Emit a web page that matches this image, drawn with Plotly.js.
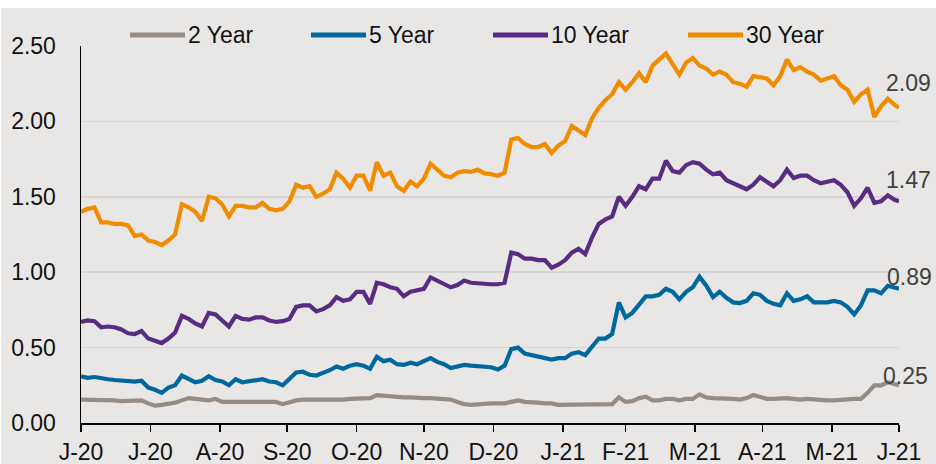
<!DOCTYPE html>
<html>
<head>
<meta charset="utf-8">
<script src="https://cdn.plot.ly/plotly-3.0.1.min.js"></script>
<style>
  html, body { margin: 0; padding: 0; background: #ffffff; width: 936px; height: 464px; overflow: hidden; }
  #chart { position: absolute; left: 1px; top: 8px; width: 935px; height: 456px; }
</style>
</head>
<body>
<div id="chart"></div>
<script>
// ---- data ----
const dates = [
"2020-06-30","2020-07-03","2020-07-06","2020-07-09","2020-07-12","2020-07-15","2020-07-18","2020-07-21","2020-07-24","2020-07-27",
"2020-07-30","2020-08-02","2020-08-05","2020-08-08","2020-08-11","2020-08-14","2020-08-17","2020-08-20","2020-08-23","2020-08-26",
"2020-08-29","2020-09-01","2020-09-04","2020-09-07","2020-09-10","2020-09-13","2020-09-16","2020-09-19","2020-09-22","2020-09-25",
"2020-09-28","2020-10-01","2020-10-04","2020-10-07","2020-10-10","2020-10-13","2020-10-16","2020-10-19","2020-10-22","2020-10-25",
"2020-10-28","2020-10-31","2020-11-03","2020-11-06","2020-11-09","2020-11-12","2020-11-15","2020-11-18","2020-11-21","2020-11-24",
"2020-11-27","2020-11-30","2020-12-03","2020-12-06","2020-12-09","2020-12-12","2020-12-15","2020-12-18","2020-12-21","2020-12-24",
"2020-12-27","2020-12-30","2021-01-02","2021-01-05","2021-01-08","2021-01-11","2021-01-14","2021-01-17","2021-01-20","2021-01-23",
"2021-01-26","2021-01-29","2021-02-01","2021-02-04","2021-02-07","2021-02-10","2021-02-13","2021-02-16","2021-02-19","2021-02-22",
"2021-02-25","2021-02-28","2021-03-03","2021-03-06","2021-03-09","2021-03-12","2021-03-15","2021-03-18","2021-03-21","2021-03-24",
"2021-03-27","2021-03-30","2021-04-02","2021-04-05","2021-04-08","2021-04-11","2021-04-14","2021-04-17","2021-04-20","2021-04-23",
"2021-04-26","2021-04-29","2021-05-02","2021-05-05","2021-05-08","2021-05-11","2021-05-14","2021-05-17","2021-05-20","2021-05-23",
"2021-05-26","2021-05-29","2021-06-01","2021-06-04","2021-06-07","2021-06-10","2021-06-13","2021-06-16","2021-06-19","2021-06-22",
"2021-06-25","2021-06-28","2021-06-30"
];

const year2 = [
0.155,0.155,0.15,0.15,0.15,0.15,0.145,0.145,0.15,0.15,
0.13,0.115,0.12,0.125,0.135,0.15,0.165,0.16,0.155,0.15,
0.16,0.14,0.14,0.14,0.145,0.14,0.14,0.14,0.14,0.14,
0.125,0.14,0.15,0.155,0.155,0.155,0.15,0.15,0.155,0.155,
0.16,0.16,0.16,0.165,0.185,0.18,0.18,0.175,0.17,0.17,
0.165,0.165,0.165,0.16,0.155,0.155,0.14,0.125,0.12,0.125,
0.125,0.13,0.13,0.13,0.14,0.15,0.14,0.14,0.135,0.13,
0.13,0.12,0.12,0.12,0.125,0.12,0.12,0.12,0.12,0.125,
0.17,0.14,0.145,0.165,0.175,0.15,0.15,0.16,0.16,0.15,
0.16,0.16,0.19,0.17,0.165,0.165,0.165,0.16,0.155,0.165,
0.185,0.17,0.16,0.16,0.165,0.165,0.16,0.155,0.16,0.155,
0.15,0.15,0.15,0.155,0.16,0.16,0.16,0.20,0.25,0.25,
0.27,0.26,0.25
];

const year5 = [
0.31,0.30,0.305,0.295,0.29,0.285,0.28,0.275,0.275,0.28,
0.235,0.22,0.20,0.235,0.25,0.315,0.29,0.27,0.28,0.31,
0.285,0.275,0.25,0.29,0.27,0.275,0.285,0.29,0.275,0.27,
0.25,0.29,0.335,0.34,0.32,0.315,0.33,0.35,0.375,0.36,
0.38,0.39,0.38,0.36,0.44,0.41,0.42,0.39,0.385,0.40,
0.39,0.41,0.43,0.405,0.39,0.365,0.375,0.385,0.38,0.375,
0.37,0.37,0.355,0.38,0.49,0.50,0.46,0.45,0.445,0.43,
0.42,0.43,0.43,0.46,0.47,0.45,0.51,0.56,0.56,0.59,
0.80,0.70,0.73,0.79,0.84,0.84,0.85,0.89,0.87,0.82,
0.87,0.90,0.97,0.91,0.835,0.87,0.83,0.80,0.795,0.81,
0.86,0.85,0.81,0.79,0.78,0.86,0.81,0.82,0.84,0.80,
0.80,0.80,0.81,0.80,0.77,0.72,0.78,0.88,0.88,0.86,
0.91,0.90,0.89
];

const year10 = [
0.67,0.68,0.675,0.635,0.64,0.635,0.62,0.595,0.59,0.61,
0.56,0.545,0.53,0.56,0.60,0.71,0.69,0.66,0.64,0.73,
0.72,0.68,0.64,0.71,0.69,0.685,0.70,0.70,0.68,0.67,
0.675,0.69,0.77,0.78,0.78,0.74,0.755,0.78,0.835,0.81,
0.82,0.87,0.87,0.79,0.93,0.92,0.90,0.89,0.84,0.87,
0.88,0.89,0.965,0.945,0.92,0.90,0.915,0.945,0.93,0.925,
0.925,0.92,0.92,0.93,1.13,1.12,1.09,1.09,1.08,1.08,
1.03,1.05,1.08,1.13,1.155,1.12,1.23,1.32,1.35,1.37,
1.50,1.44,1.50,1.57,1.55,1.62,1.62,1.74,1.67,1.66,
1.71,1.73,1.72,1.68,1.65,1.66,1.61,1.59,1.57,1.55,
1.58,1.63,1.60,1.57,1.61,1.68,1.625,1.64,1.64,1.61,
1.59,1.60,1.61,1.58,1.53,1.44,1.49,1.56,1.46,1.47,
1.51,1.48,1.47
];

const year30 = [
1.40,1.42,1.43,1.33,1.33,1.32,1.32,1.31,1.24,1.25,
1.21,1.20,1.18,1.21,1.25,1.45,1.43,1.40,1.34,1.50,
1.49,1.45,1.37,1.44,1.44,1.43,1.43,1.46,1.42,1.41,
1.42,1.47,1.58,1.56,1.57,1.50,1.52,1.55,1.66,1.62,
1.56,1.64,1.64,1.54,1.73,1.64,1.66,1.57,1.54,1.60,
1.57,1.62,1.72,1.68,1.64,1.63,1.66,1.67,1.665,1.68,
1.655,1.65,1.64,1.66,1.88,1.89,1.85,1.83,1.83,1.85,
1.79,1.84,1.87,1.97,1.94,1.91,2.02,2.09,2.14,2.18,
2.26,2.21,2.26,2.32,2.26,2.37,2.41,2.45,2.38,2.31,
2.39,2.42,2.37,2.35,2.31,2.33,2.31,2.26,2.25,2.23,
2.30,2.29,2.285,2.24,2.30,2.41,2.34,2.36,2.33,2.31,
2.27,2.285,2.30,2.24,2.21,2.13,2.18,2.21,2.03,2.10,
2.15,2.11,2.09
];

const seriesNames = ["2 Year", "5 Year", "10 Year", "30 Year"];
const tickDates = ["2020-06-30","2020-07-31","2020-08-31","2020-09-30","2020-10-31","2020-11-30",
                   "2020-12-31","2021-01-31","2021-02-28","2021-03-31","2021-04-30","2021-05-31","2021-06-30"];
const tickLabels = ["J-20","J-20","A-20","S-20","O-20","N-20","D-20","J-21","F-21","M-21","A-21","M-21","J-21"];

// ---- styles ----
const colors = ["#968C83", "#00689C", "#582C83", "#F08C00"];
const FONT = "Liberation Sans, Arial, Helvetica, sans-serif";
const FS = 23;
const BG = "#E8E7E5";
const allSeries = [year2, year5, year10, year30];

const traces = allSeries.map((ys, i) => ({
  type: "scatter", mode: "lines", x: dates, y: ys, name: seriesNames[i],
  line: { color: colors[i], width: 4.2 }, showlegend: false, hoverinfo: "skip"
}));

// plot area geometry inside the div (px)
const M = { l: 80, r: 37, t: 38, b: 40.5 };
const W = 935, H = 456;
const pw = W - M.l - M.r;
const ph = H - M.t - M.b;
const pxX = px => (px - 1 - M.l) / pw;          // page px -> paper x
const pxY = py => ((M.t + ph) - (py - 8)) / ph;  // page px -> paper y

// manual legend (line swatch + text), page-pixel positions of the reference
const legLineStart = [130, 311, 493, 688];
const legLen = 55, legY = 35;
const shapes = seriesNames.map((n, i) => ({
  type: "line", xref: "paper", yref: "paper",
  x0: pxX(legLineStart[i]), x1: pxX(legLineStart[i] + legLen),
  y0: pxY(legY), y1: pxY(legY),
  line: { color: colors[i], width: 5 }
}));
const annotations = seriesNames.map((n, i) => ({
  xref: "paper", yref: "paper", x: pxX(legLineStart[i] + legLen + 1), y: pxY(legY),
  xanchor: "left", yanchor: "middle", text: n, showarrow: false,
  font: { family: FONT, size: FS, color: "#111111" }
}));

// end-of-line value labels
const endShiftX = [-18, -14, -15, -15];
const endShiftY = [9, 12, 21, 25];
allSeries.forEach((ys, i) => {
  const last = ys[ys.length - 1];
  annotations.push({
    x: dates[dates.length - 1], y: last, xref: "x", yref: "y",
    text: last.toFixed(2), showarrow: false, xanchor: "left", yanchor: "middle",
    xshift: endShiftX[i], yshift: endShiftY[i],
    font: { family: FONT, size: FS, color: "#404040" }
  });
});

const layout = {
  width: W, height: H,
  margin: M,
  paper_bgcolor: BG, plot_bgcolor: BG,
  showlegend: false,
  font: { family: FONT, size: FS, color: "#111111" },
  xaxis: {
    type: "date", range: ["2020-06-30", "2021-06-30"],
    tickmode: "array", tickvals: tickDates, ticktext: tickLabels,
    ticks: "outside", ticklen: 7, tickwidth: 1.5, tickcolor: "#000000",
    showline: true, linecolor: "#000000", linewidth: 1.5,
    showgrid: false, zeroline: false,
    tickfont: { family: FONT, size: FS, color: "#111111" },
    ticklabelstandoff: 1
  },
  yaxis: {
    range: [0, 2.5], dtick: 0.5, tick0: 0, tickformat: ".2f",
    showline: true, linecolor: "#000000", linewidth: 1.5,
    showgrid: true, gridcolor: "#D6D5D3", gridwidth: 1.5,
    zeroline: false, ticks: "",
    tickfont: { family: FONT, size: FS, color: "#111111" },
    ticklabelstandoff: 19
  },
  shapes: shapes,
  annotations: annotations
};

Plotly.newPlot("chart", traces, layout, { staticPlot: true, displayModeBar: false });
</script>
</body>
</html>
